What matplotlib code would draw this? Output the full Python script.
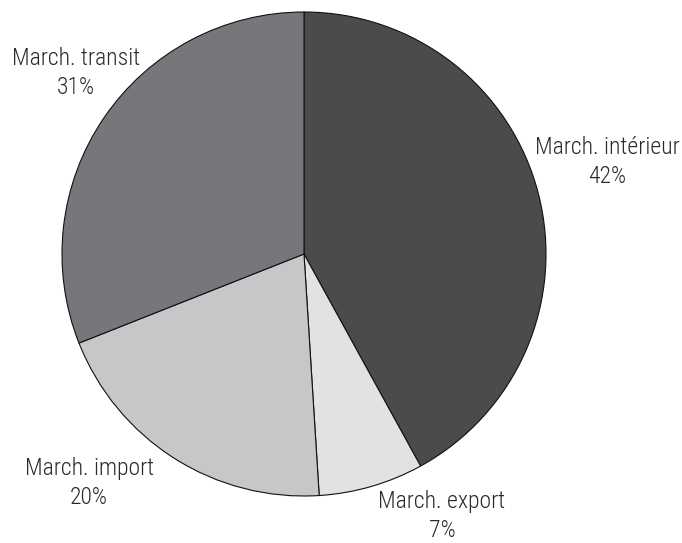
import matplotlib
matplotlib.use("Agg")
import matplotlib.pyplot as plt

# Market shares by destination
categories = ["March. intérieur", "March. export", "March. import", "March. transit"]
shares = [42, 7, 20, 31]
colors = ["#4a4b4d", "#e1e2e3", "#c6c7c9", "#76777a"]

# Label anchor points in axis data units (pie radius = 1)
label_pos = [(1.252, 0.380), (0.570, -1.082), (-0.888, -0.946), (-0.942, 0.748)]

plt.rcParams["font.family"] = ["Roboto Condensed", "DejaVu Sans"]

fig = plt.figure(figsize=(6.82, 5.43), dpi=100)
ax = fig.add_axes([0, 0, 1, 1])

wedges, _ = ax.pie(shares, colors=colors, startangle=90, counterclock=False,
                   radius=1.0, wedgeprops=dict(edgecolor="#111111", linewidth=0.8))

for name, val, (x, y) in zip(categories, shares, label_pos):
    ax.text(x, y, f"{name}\n{val}%", ha="center", va="center",
            fontsize=17, fontweight="light", color="#2a2a2a", linespacing=1.32)

ax.set_xlim(-304 / 242, (682 - 304) / 242)
ax.set_ylim(-(543 - 254) / 242, 254 / 242)
ax.set_aspect("equal")
ax.axis("off")

fig.savefig("out.png", dpi=100, facecolor="white")
